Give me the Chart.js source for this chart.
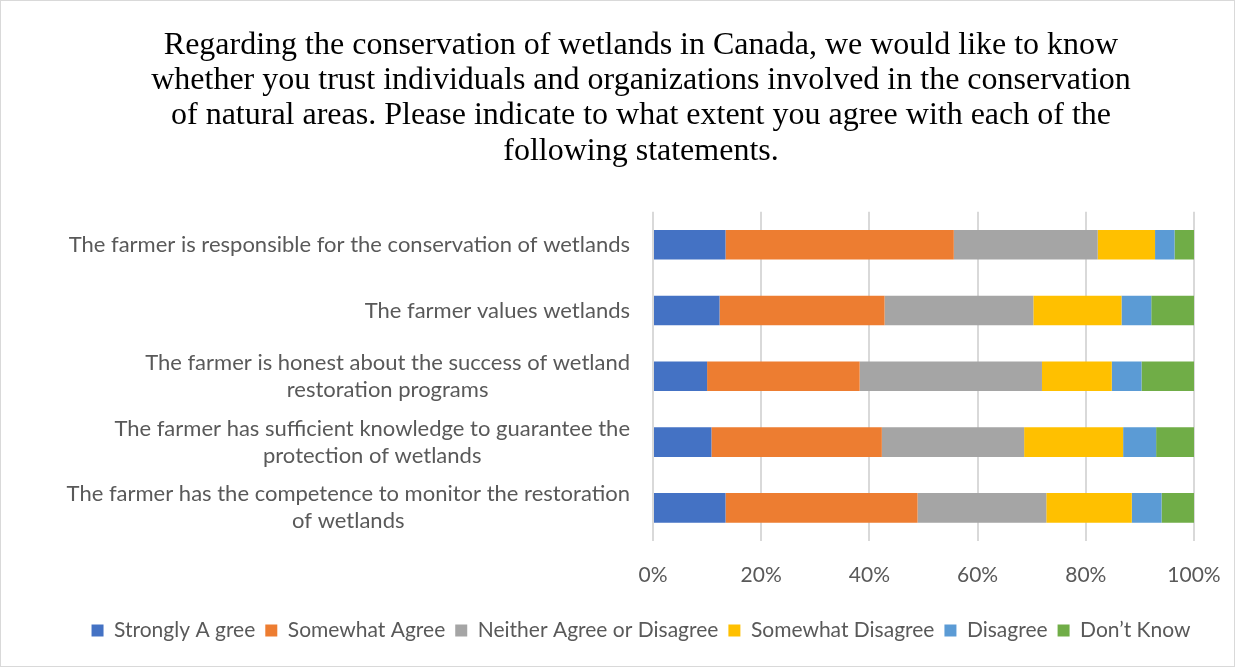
<!DOCTYPE html>
<html>
<head>
<meta charset="utf-8">
<script src="https://cdn.jsdelivr.net/npm/chart.js@4"></script>
<style>
  html, body { margin: 0; padding: 0; background: #fff; }
  #wrap { width: 1235px; height: 667px; box-sizing: border-box; border: 1px solid #d9d9d9; }
</style>
</head>
<body>
<div id="wrap"><canvas id="trustChart"></canvas></div>
<script>
// survey statements, top to bottom
const statements = [
  ['The farmer is responsible for the conservation of wetlands'],
  ['The farmer values wetlands'],
  ['The farmer is honest about the success of wetland', 'restoration programs'],
  ['The farmer has sufficient knowledge to guarantee the', 'protection of wetlands'],
  ['The farmer has the competence to monitor the restoration', 'of wetlands']
];

const responses = ['Strongly A gree', 'Somewhat Agree', 'Neither Agree or Disagree', 'Somewhat Disagree', 'Disagree', 'Don\u2019t Know'];
const colors = ['#4472C4', '#ED7D31', '#A5A5A5', '#FFC000', '#5B9BD5', '#70AD47'];

// share of respondents (%) per statement
const stronglyAgree    = [13.4, 12.3, 10.0, 10.8, 13.4];
const somewhatAgree    = [42.2, 30.5, 28.2, 31.5, 35.5];
const neither          = [26.6, 27.5, 33.7, 26.3, 23.8];
const somewhatDisagree = [10.6, 16.3, 12.9, 18.3, 15.8];
const disagree         = [3.6, 5.5, 5.5, 6.1, 5.5];
const dontKnow         = [3.6, 7.9, 9.7, 7.0, 6.0];

const xTicks = [0, 20, 40, 60, 80, 100];

const titleLines = [
  'Regarding the conservation of wetlands in Canada, we would like to know',
  'whether you trust individuals and organizations involved in the conservation',
  'of natural areas. Please indicate to what extent you agree with each of the',
  'following statements.'
];

const series = [stronglyAgree, somewhatAgree, neither, somewhatDisagree, disagree, dontKnow];
const sansFamily = 'Lato, "Liberation Sans", sans-serif';
const labelFont = '22px ' + sansFamily;

// category labels: each block centred on itself, right-aligned to the axis
const statementLabels = {
  id: 'statementLabels',
  afterDraw(chart) {
    const ctx = chart.ctx;
    const yScale = chart.scales.y;
    const right = chart.chartArea.left - 23;
    const lineH = 27;
    ctx.save();
    ctx.font = labelFont;
    ctx.fillStyle = '#595959';
    ctx.textAlign = 'center';
    ctx.textBaseline = 'middle';
    statements.forEach((lines, i) => {
      const w = Math.max(...lines.map(l => ctx.measureText(l).width));
      const cx = right - w / 2;
      const cy = yScale.getPixelForValue(i);
      const top = cy - (lines.length - 1) * lineH / 2;
      lines.forEach((l, j) => ctx.fillText(l, cx, top + j * lineH));
    });
    ctx.restore();
  }
};

const ctx = document.getElementById('trustChart').getContext('2d');
const trustChart = new Chart(ctx, {
  type: 'bar',
  data: {
    labels: statements.map(s => s.join(' ')),
    datasets: responses.map((name, i) => ({
      label: name,
      data: series[i],
      backgroundColor: colors[i],
      borderWidth: 0,
      barPercentage: 0.45,
      categoryPercentage: 1
    }))
  },
  options: {
    indexAxis: 'y',
    responsive: true,
    maintainAspectRatio: false,
    animation: false,
    layout: { padding: { left: 47, right: 0, top: 27, bottom: 15 } },
    scales: {
      x: {
        stacked: true,
        min: 0,
        max: 100,
        afterBuildTicks: axis => { axis.ticks = xTicks.map(v => ({ value: v })); },
        afterFit: axis => { axis.paddingRight = 40; },
        ticks: {
          callback: v => v + '%',
          color: '#595959',
          font: { family: sansFamily, size: 21 },
          padding: 22
        },
        grid: { color: '#d9d9d9', lineWidth: 2, drawTicks: false },
        border: { display: false }
      },
      y: {
        stacked: true,
        ticks: { display: false },
        grid: { display: false },
        border: { display: false },
        afterFit: axis => { axis.width = 605; }
      }
    },
    plugins: {
      title: {
        display: true,
        text: titleLines,
        color: '#000',
        font: { family: '"Liberation Serif", "Times New Roman", serif', size: 32, weight: 'normal', lineHeight: 1.1 },
        padding: { top: 0, bottom: 43 }
      },
      legend: {
        position: 'bottom',
        labels: {
          boxWidth: 12,
          boxHeight: 12,
          padding: 10,
          color: '#595959',
          font: { family: sansFamily, size: 21 }
        }
      },
      tooltip: { enabled: false }
    }
  },
  plugins: [statementLabels]
});
</script>
</body>
</html>
